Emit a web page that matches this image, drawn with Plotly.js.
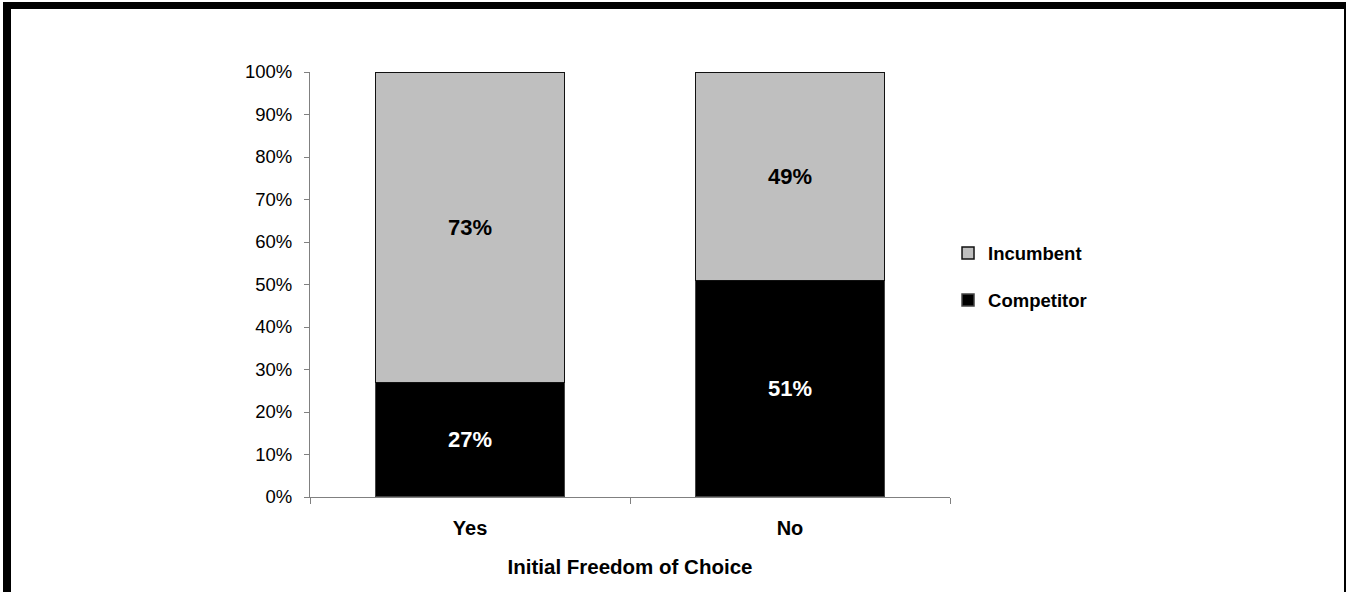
<!DOCTYPE html>
<html>
<head>
<meta charset="utf-8">
<script src="https://cdn.plot.ly/plotly-3.0.1.min.js"></script>
<style>
  html, body { margin: 0; padding: 0; background: #fff; }
  #wrap { position: relative; width: 1346px; height: 592px; overflow: hidden; }
  #chart { position: absolute; left: 0; top: 0; width: 1346px; height: 592px; }
  .edge { position: absolute; background: #000; }
</style>
</head>
<body>
<div id="wrap">
  <div id="chart"></div>
  <div class="edge" style="left:3px; top:2px; width:1343px; height:7px;"></div>
  <div class="edge" style="left:3px; top:2px; width:8px; height:590px;"></div>
  <div class="edge" style="left:1344px; top:2px; width:2px; height:590px;"></div>
</div>
<script>
// Share of choices by initial freedom of choice
const categories = ['Yes', 'No'];
const competitor = [27, 51];
const incumbent = [73, 49];
const yTicks = [0, 10, 20, 30, 40, 50, 60, 70, 80, 90, 100];

const FONT = 'Arial, "Liberation Sans", sans-serif';

const traces = [
  {
    type: 'bar',
    name: 'Competitor',
    legendgroup: 'c',
    legendrank: 2,
    x: categories,
    y: competitor,
    text: competitor.map(v => v + '%'),
    textposition: 'inside',
    insidetextanchor: 'middle',
    textangle: 0,
    textfont: { family: FONT, size: 22, color: '#fff', weight: 'bold' },
    marker: { color: '#000000', line: { color: '#444444', width: 1.5 } },
    hoverinfo: 'skip'
  },
  {
    type: 'bar',
    name: 'Incumbent',
    legendgroup: 'i',
    legendrank: 1,
    x: categories,
    y: incumbent,
    text: incumbent.map(v => v + '%'),
    textposition: 'inside',
    insidetextanchor: 'middle',
    textangle: 0,
    textfont: { family: FONT, size: 22, color: '#000', weight: 'bold' },
    marker: { color: '#bfbfbf', line: { color: '#111111', width: 1.5 } },
    hoverinfo: 'skip'
  }
];

const layout = {
  width: 1346,
  height: 592,
  margin: { l: 310, r: 396, t: 72, b: 95, pad: 0 },
  paper_bgcolor: '#ffffff',
  plot_bgcolor: '#ffffff',
  barmode: 'stack',
  bargap: 0.41,
  showlegend: true,
  font: { family: FONT, color: '#000' },
  legend: {
    x: 0.9969, xanchor: 'left',
    y: 0.518, yanchor: 'middle',
    traceorder: 'grouped',
    tracegroupgap: 20,
    itemwidth: 30,
    font: { family: FONT, size: 18.5, color: '#000', weight: 'bold' },
    bgcolor: 'rgba(0,0,0,0)'
  },
  xaxis: {
    type: 'category',
    showline: true,
    linecolor: '#808080',
    linewidth: 1,
    ticks: 'outside',
    tickson: 'boundaries',
    ticklen: 6,
    tickcolor: '#808080',
    ticklabelstandoff: 13,
    showgrid: false,
    zeroline: false,
    tickfont: { family: FONT, size: 20, color: '#000', weight: 'bold' },
    title: {
      text: 'Initial Freedom of Choice',
      font: { family: FONT, size: 20.5, color: '#000', weight: 'bold' },
      standoff: 21
    },
    fixedrange: true
  },
  yaxis: {
    range: [0, 100],
    tickvals: yTicks,
    ticktext: yTicks.map(v => v + '%'),
    showline: true,
    linecolor: '#808080',
    linewidth: 1,
    ticks: 'outside',
    ticklen: 5,
    tickcolor: '#808080',
    ticklabelstandoff: 8,
    showgrid: false,
    zeroline: false,
    tickfont: { family: FONT, size: 18.5, color: '#000' },
    fixedrange: true
  }
};

Plotly.newPlot('chart', traces, layout, { displayModeBar: false, staticPlot: true });
</script>
</body>
</html>
